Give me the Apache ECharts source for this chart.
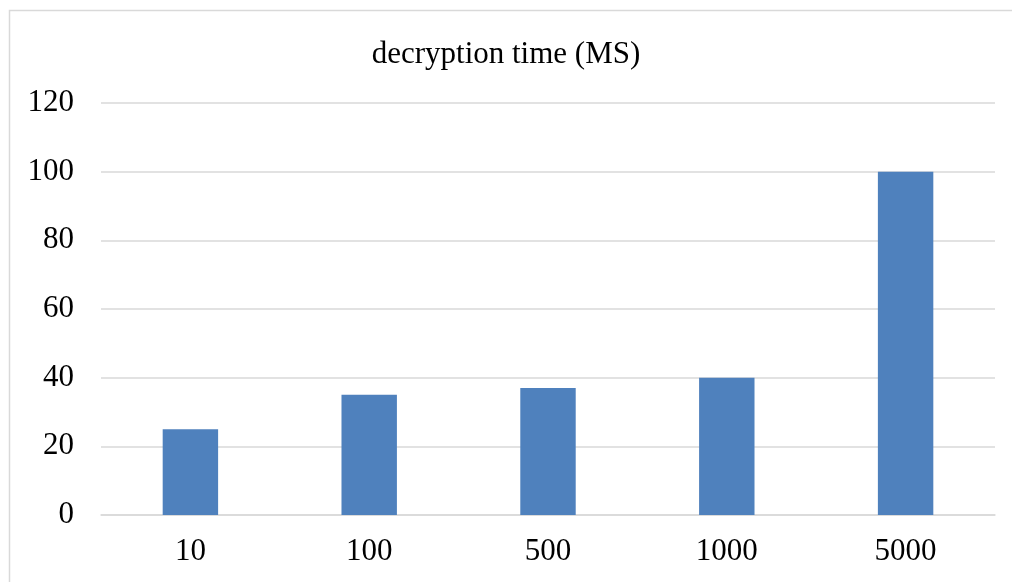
<!DOCTYPE html>
<html>
<head>
<meta charset="utf-8">
<script src="https://cdn.jsdelivr.net/npm/echarts@6/dist/echarts.min.js"></script>
<style>
  html, body { margin: 0; padding: 0; background: #fff; }
  #chart { width: 1012px; height: 582px; }
</style>
</head>
<body>
<div id="chart"></div>
<script>
// values
const categories = ["10", "100", "500", "1000", "5000"];
const decryptTime = [25, 35, 37, 40, 100];
const titleText = "decryption time (MS)";

const font = "'Liberation Serif', 'Times New Roman', serif";
const chart = echarts.init(document.getElementById("chart"), null, { renderer: "canvas" });

chart.setOption({
  backgroundColor: "#fff",
  animation: false,
  // outer chart-area frame, clipped on the right and bottom like the source
  graphic: [{
    type: "rect",
    shape: { x: 9.5, y: 10.5, width: 1010, height: 620 },
    style: { fill: "none", stroke: "#D9D9D9", lineWidth: 1.5 },
    silent: true
  }],
  title: {
    text: titleText,
    left: "center",
    top: 34,
    textStyle: { fontFamily: font, fontSize: 31, fontWeight: "normal", color: "#000" }
  },
  grid: { left: 101, right: 17, top: 103, bottom: 67 },
  xAxis: {
    type: "category",
    data: categories,
    axisLine: { lineStyle: { color: "#D9D9D9", width: 1.5 } },
    axisTick: { show: false },
    axisLabel: { fontFamily: font, fontSize: 31, color: "#000", margin: 21 }
  },
  yAxis: {
    type: "value",
    min: 0,
    max: 120,
    interval: 20,
    axisLine: { show: false },
    axisTick: { show: false },
    splitLine: { lineStyle: { color: "#D9D9D9", width: 1.5 } },
    axisLabel: { fontFamily: font, fontSize: 31, color: "#000", margin: 27 }
  },
  series: [{
    type: "bar",
    data: decryptTime,
    barWidth: "31%",
    itemStyle: { color: "#4F81BD" }
  }]
});
</script>
</body>
</html>
